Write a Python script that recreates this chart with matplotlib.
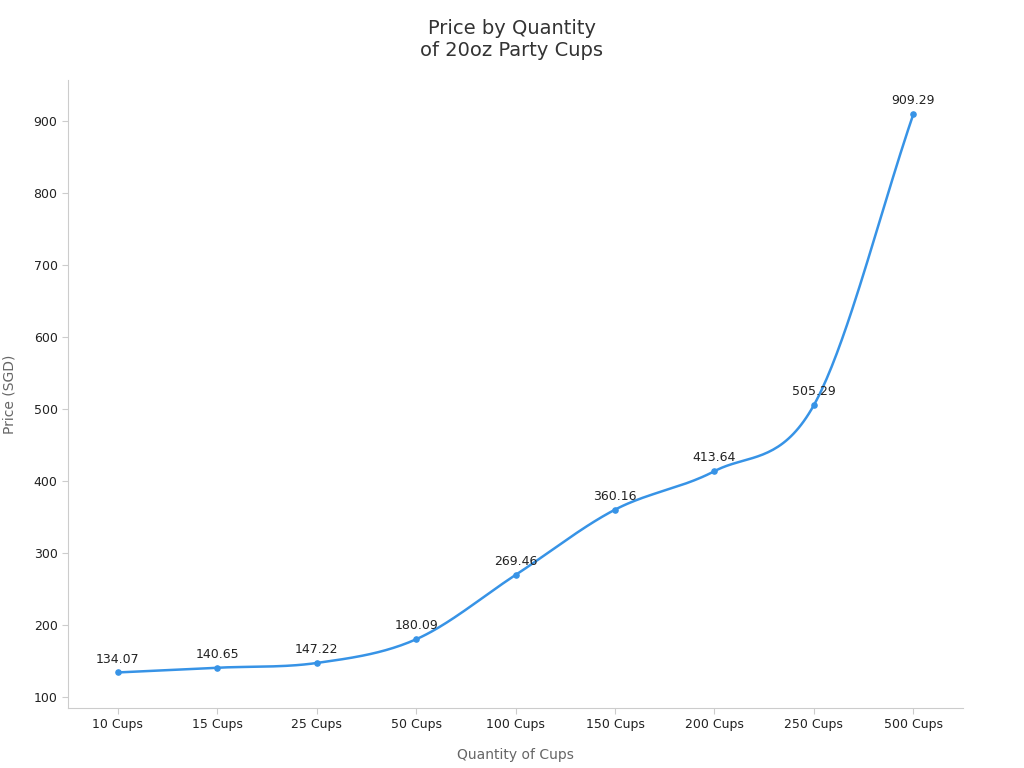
import numpy as np
import matplotlib
matplotlib.use("Agg")
import matplotlib.pyplot as plt

categories = ["10 Cups", "15 Cups", "25 Cups", "50 Cups", "100 Cups", "150 Cups", "200 Cups", "250 Cups", "500 Cups"]
prices = [134.07, 140.65, 147.22, 180.09, 269.46, 360.16, 413.64, 505.29, 909.29]

x = np.arange(len(categories), dtype=float)
y = np.array(prices)

# Catmull-Rom smoothing through the points
def catmull(xs, ys, n=40):
    px = np.concatenate([[2*xs[0]-xs[1]], xs, [2*xs[-1]-xs[-2]]])
    py = np.concatenate([[2*ys[0]-ys[1]], ys, [2*ys[-1]-ys[-2]]])
    ox, oy = [], []
    for i in range(1, len(px)-2):
        t = np.linspace(0, 1, n)
        for arr, out in ((px, ox), (py, oy)):
            p0, p1, p2, p3 = arr[i-1], arr[i], arr[i+1], arr[i+2]
            out.extend(0.5*((2*p1) + (-p0+p2)*t + (2*p0-5*p1+4*p2-p3)*t**2 + (-p0+3*p1-3*p2+p3)*t**3))
    return np.array(ox), np.array(oy)

sx, sy = catmull(x, y)

color = "#3793e6"
fig = plt.figure(figsize=(10.24, 7.68), dpi=100)
ax = fig.add_axes([68/1024, 60/768, 895/1024, 628/768])
ax.plot(sx, sy, color=color, lw=1.8)
ax.scatter(x, y, color=color, s=14, zorder=3)
for xi, yi in zip(x, y):
    ax.annotate(f"{yi:.2f}", (xi, yi), xytext=(0, 5), textcoords="offset points",
                ha="center", va="bottom", fontsize=9, color="#222222")

ax.set_xlim(-0.5, 8.5)
ax.set_ylim(84.7, 957)
ax.set_xticks(x)
ax.set_xticklabels(categories)
ax.set_yticks(range(100, 901, 100))
ax.tick_params(labelsize=9, colors="#222222", length=4)
ax.tick_params(axis="both", color="#cccccc")
for s in ("top", "right"):
    ax.spines[s].set_visible(False)
for s in ("left", "bottom"):
    ax.spines[s].set_color("#cccccc")
ax.set_xlabel("Quantity of Cups", fontsize=10, color="#666666", labelpad=12)
ax.set_ylabel("Price (SGD)", fontsize=10, color="#666666", labelpad=12)
fig.suptitle("Price by Quantity\nof 20oz Party Cups", y=0.975, fontsize=14, color="#333333")
fig.savefig("out.png", dpi=100)
